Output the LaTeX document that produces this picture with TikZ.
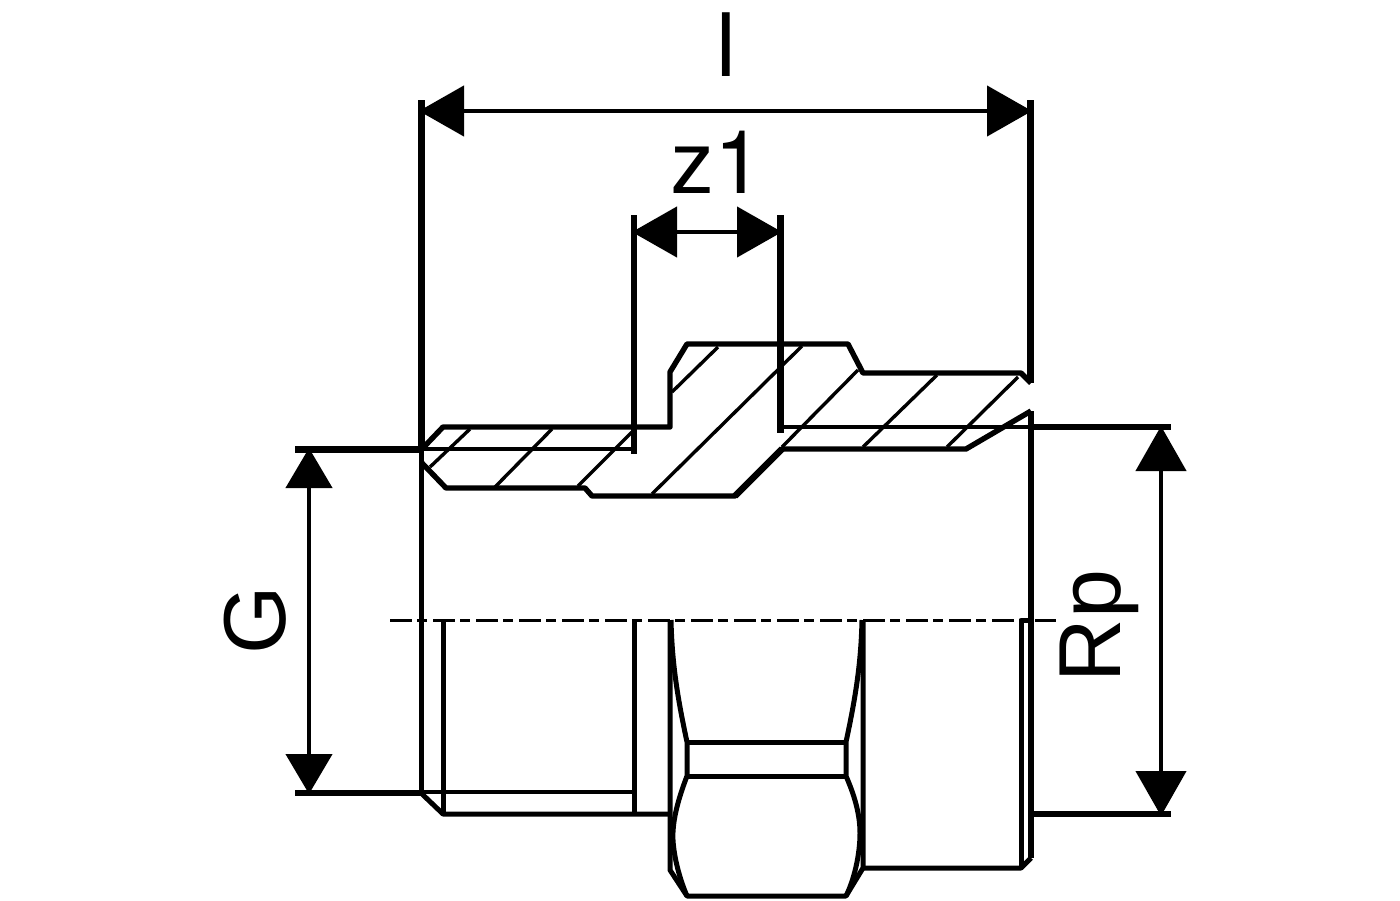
\documentclass[tikz,border=0pt]{standalone}
\usepackage{fontspec}
\setmainfont{Liberation Sans}
\newfontfamily\herosfont{TeX Gyre Heros}
\usetikzlibrary{arrows.meta}
\tikzset{
  x=1pt,y=-1pt,
  thick line/.style={line width=6.4pt,line cap=butt},
  outline/.style={line width=5.4pt,line join=round,line cap=butt},
  mid line/.style={line width=5pt,line join=round,line cap=butt},
  thin line/.style={line width=3.2pt,line cap=butt},
  hatch/.style={line width=3.4pt,line cap=butt},
  dimlabel/.style={font=\fontsize{88}{88}\selectfont,inner sep=0pt},
  dimH/.style={line width=4.5pt,{Triangle[length=45pt,width=50pt]}-{Triangle[length=45pt,width=50pt]}},
  dimV/.style={line width=4.5pt,{Triangle[length=40pt,width=46pt]}-{Triangle[length=40pt,width=46pt]}},
}
\begin{document}
\begin{tikzpicture}
\useasboundingbox[fill=white] (0,0) rectangle (1400,900);
% named reference points
\coordinate (Il) at (419,111); \coordinate (Ir) at (1032,111);
\coordinate (zl) at (632,232); \coordinate (zr) at (782,232);
\coordinate (Gt) at (309,448); \coordinate (Gb) at (309,794);
\coordinate (Rt) at (1161,426); \coordinate (Rb) at (1161,816);
% dimension lines
\draw[dimH] (Il) -- (Ir);
\draw[dimH] (zl) -- (zr);
\draw[dimV] (Gt) -- (Gb);
\draw[dimH] (Rt) -- (Rb);
% extension lines
\draw[thick line] (421.5,100) -- (421.5,450);
\draw[outline] (421.5,450) -- (421.5,795);
\draw[thick line] (1030.5,100) -- (1030.5,383);
\draw[outline] (1031,411) -- (1031,858);
\draw[thick line] (634,215) -- (634,454);
\draw[thick line] (780.5,215) -- (780.5,433);
\draw[thick line] (295,449.5) -- (421,449.5);
\draw[thick line] (295,793) -- (421,793);
\draw[thick line] (1033,427) -- (1171,427);
\draw[thick line] (1033,814) -- (1171,814);
% upper section
\draw[outline] (421,450) -- (443,427) -- (670,427) -- (670,372) -- (687,344) -- (848,344) -- (863,373) -- (1021,373) -- (1031,383);
\draw[outline] (421,462) -- (446,488) -- (585,488) -- (592,496) -- (735,496) -- (782,449) -- (966,449) -- (1031,411);
\draw[line width=6.6pt] (735,496) -- (782,449);
\draw[thin line] (421,449) -- (633,449);
\draw[thin line] (780,427) -- (1031,427);
% hatching
\draw[hatch] (470,429) -- (430,467);
\draw[hatch] (552,429) -- (495,487);
\draw[hatch] (632,432) -- (578,486);
\draw[hatch] (652,494) -- (802,346);
\draw[hatch] (718,347) -- (672,392);
\draw[hatch] (858,370) -- (782,447);
\draw[hatch] (937,375) -- (863,447);
\draw[hatch] (1018,377) -- (947,447);
% centre line
\draw[thin line,dash pattern=on 22pt off 5pt on 10pt off 6pt] (390,620.5) -- (1056,620.5);
% lower part
\draw[mid line] (443,620) -- (443,814);
\draw[mid line] (634,620) -- (634,814);
\draw[mid line] (421,793) -- (443,814) -- (670,814);
\draw[thin line] (421,792) -- (633,792);
\draw[mid line] (670,620) -- (670,870) -- (687,896) -- (846,896) -- (863,868) -- (863,620);
\draw[mid line] (671,620) .. controls (672,665) and (678,700) .. (687,742) -- (687,776) .. controls (679,797) and (672,820) .. (673,840) .. controls (674,858) and (680,880) .. (687,896);
\draw[mid line] (862,620) .. controls (861,665) and (855,700) .. (846,742) -- (846,776) .. controls (853,792) and (860,812) .. (860,833) .. controls (860,855) and (854,880) .. (846,896);
\draw[mid line] (687,742) -- (846,742);
\draw[mid line] (687,776) -- (846,776);
\draw[mid line] (863,868) -- (1021,868) -- (1031,858);
\draw[mid line] (1021,868) -- (1021,620) -- (1028,620);
% labels
\node[dimlabel] (lI) at (726,45) {l};
\node[dimlabel,anchor=base west] (lz) at (670,193) {z{\herosfont 1}};
\node[dimlabel,rotate=90] (lG) at (255,620) {G};
\node[dimlabel,rotate=90] (lR) at (1099,626) {Rp};
\end{tikzpicture}
\end{document}
